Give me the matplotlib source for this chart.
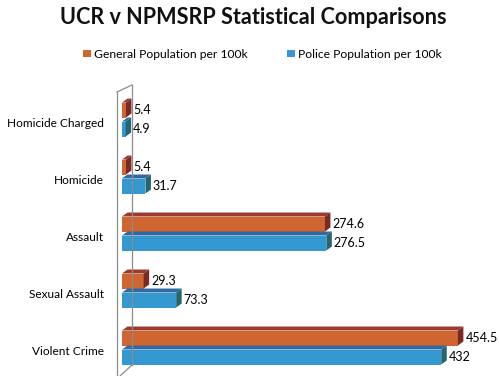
import matplotlib
matplotlib.use('Agg')
import matplotlib.pyplot as plt
from matplotlib.patches import Polygon
from matplotlib.lines import Line2D

categories = ['Homicide Charged', 'Homicide', 'Assault', 'Sexual Assault', 'Violent Crime']
general_pop = [5.4, 5.4, 274.6, 29.3, 454.5]
police_pop = [4.9, 31.7, 276.5, 73.3, 432]
value_labels_general = ['5.4', '5.4', '274.6', '29.3', '454.5']
value_labels_police = ['4.9', '31.7', '276.5', '73.3', '432']
series_names = ['General Population per 100k', 'Police Population per 100k']

# colours: front, top, side
orange = ('#CF6631', '#9C3A2E', '#7A2A24')
blue = ('#3499D0', '#2F6AA3', '#24666E')

W, H = 499, 376
plt.rcParams['font.family'] = ['Lato', 'DejaVu Sans']
fig = plt.figure(figsize=(W / 100, H / 100), dpi=100)
fig.patch.set_facecolor('white')

# axes in pixel coords
ax_left, ax_top, ax_right, ax_bottom = 122, 88, 491.5, 376
ax = fig.add_axes([ax_left / W, 1 - ax_bottom / H, (ax_right - ax_left) / W, (ax_bottom - ax_top) / H])
ax.set_xlim(0, 500)
ax.set_ylim(4.5, -0.553)
ax.axis('off')

px_x = (ax_right - ax_left) / 500.0   # px per x unit
px_y = 57.0                           # px per category
bar_h = 15 / px_y
sep = 9.5 / px_y
dx = 5.5 / px_x
dy = 4 / px_y


def bar3d(y, v, cols, label):
    front, top, side = cols
    yt = y - bar_h / 2
    yb = y + bar_h / 2
    ax.add_patch(Polygon([(0, yt), (v, yt), (v, yb), (0, yb)], closed=True,
                         facecolor=front, edgecolor='none', zorder=3))
    ax.add_patch(Polygon([(0, yt), (v, yt), (v + dx, yt - dy), (dx, yt - dy)], closed=True,
                         facecolor=top, edgecolor='none', zorder=3))
    ax.add_patch(Polygon([(v, yt), (v + dx, yt - dy), (v + dx, yb - dy), (v, yb)], closed=True,
                         facecolor=side, edgecolor='none', zorder=3))
    ax.text(v + dx + 2 / px_x, y, label, va='center', ha='left', fontsize=9,
            color='black', clip_on=False, zorder=4)


for i in range(len(categories)):
    bar3d(i - sep, general_pop[i], orange, value_labels_general[i])
    bar3d(i + sep, police_pop[i], blue, value_labels_police[i])
    fig.text(104 / W, 1 - (ax_top + (i + 0.553) * px_y + 4) / H, categories[i],
             ha='right', va='center', fontsize=8.6, color='black')

# 3D wall outline
wall = '#8C8C8C'
def fline(xs, ys):
    fig.add_artist(Line2D([x / W for x in xs], [1 - y / H for y in ys],
                          color=wall, lw=0.9, zorder=1))
fline([117, 117], [92, 376])
fline([132, 132], [85, 365])
fline([117, 132], [92, 85])
fline([132, 120], [365, 376])

fig.text(0.508, 1 - 18 / H, 'UCR v NPMSRP Statistical Comparisons', ha='center', va='center',
         fontsize=15.6, fontweight='bold', color='#111111')

# legend
fig.patches.append(plt.Rectangle((83 / W, 1 - 57 / H), 8 / W, 7 / H, transform=fig.transFigure,
                                 facecolor=orange[0], edgecolor='none'))
fig.text(94 / W, 1 - 54 / H, series_names[0], ha='left', va='center', fontsize=8.7)
fig.patches.append(plt.Rectangle((287 / W, 1 - 57 / H), 8 / W, 7 / H, transform=fig.transFigure,
                                 facecolor=blue[0], edgecolor='none'))
fig.text(298 / W, 1 - 54 / H, series_names[1], ha='left', va='center', fontsize=8.7)

fig.savefig('out.png', dpi=100)
